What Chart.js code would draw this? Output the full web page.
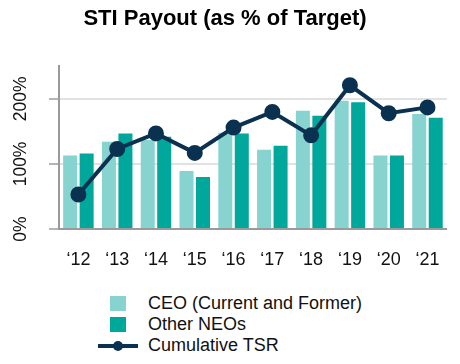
<!DOCTYPE html>
<html>
<head>
<meta charset="utf-8">
<script src="https://cdn.jsdelivr.net/npm/chart.js@4.4.0/dist/chart.umd.min.js"></script>
<style>
  body { margin: 0; background: #fff; font-family: "Liberation Sans", Arial, sans-serif; }
  #wrap { position: relative; width: 460px; height: 364px; }
  #chart { position: absolute; left: 0; top: 0; }
  #legend { position: absolute; left: 98px; top: 293px; font-size: 18px; color: #111; }
  .item { height: 21px; display: flex; align-items: center; }
  .sw { width: 40px; height: 21px; position: relative; margin-right: 10px; }
</style>
</head>
<body>
<div id="wrap">
  <canvas id="chart" width="460" height="280"></canvas>
  <div id="legend"></div>
</div>
<script>
// Data
const years = ['\u201812', '\u201813', '\u201814', '\u201815', '\u201816', '\u201817', '\u201818', '\u201819', '\u201820', '\u201821'];
const ceoPayout = [113, 134, 137, 89, 148, 122, 182, 197, 113, 177];
const neoPayout = [116, 147, 142, 80, 147, 128, 174, 195, 113, 171];
const cumulativeTsr = [53, 123, 147, 117, 156, 180, 144, 221, 178, 187];
const yTicks = [0, 100, 200];

const ceoColor = '#87d3cf';
const neoColor = '#00a79b';
const tsrColor = '#0b3151';

// Rotated y labels (drawn by hand)
const yLabelPlugin = {
    id: 'yLabels',
    afterDraw(chart) {
        const ctx = chart.ctx;
        const y = chart.scales.y;
        ctx.save();
        ctx.font = '17.5px "Liberation Sans", Arial, sans-serif';
        ctx.fillStyle = '#111';
        ctx.textAlign = 'center';
        ctx.textBaseline = 'middle';
        yTicks.forEach(function(v) {
            ctx.save();
            ctx.translate(21, y.getPixelForValue(v));
            ctx.rotate(-Math.PI / 2);
            ctx.fillText(v + '%', 0, 0);
            ctx.restore();
        });
        ctx.restore();
    }
};

const chart = new Chart(document.getElementById('chart'), {
    data: {
        labels: years,
        datasets: [
            {
                type: 'line',
                label: 'Cumulative TSR',
                data: cumulativeTsr,
                borderColor: tsrColor,
                backgroundColor: tsrColor,
                borderWidth: 4,
                pointRadius: 6,
                pointHoverRadius: 6,
                tension: 0,
                order: 0
            },
            {
                type: 'bar',
                label: 'CEO (Current and Former)',
                data: ceoPayout,
                backgroundColor: ceoColor,
                categoryPercentage: 0.85,
                barPercentage: 0.85,
                order: 1
            },
            {
                type: 'bar',
                label: 'Other NEOs',
                data: neoPayout,
                backgroundColor: neoColor,
                categoryPercentage: 0.85,
                barPercentage: 0.85,
                order: 1
            }
        ]
    },
    options: {
        responsive: false,
        animation: false,
        layout: { padding: { left: 0, right: 10, top: 0, bottom: 0 } },
        plugins: {
            legend: { display: false },
            tooltip: { enabled: false },
            title: {
                display: true,
                text: 'STI Payout (as % of Target)',
                color: '#000',
                font: { family: '"Liberation Sans", Arial, sans-serif', size: 22, weight: 'bold' },
                padding: { top: 6, bottom: 34 }
            }
        },
        scales: {
            x: {
                afterFit: function(s) { s.height = 51; },
                grid: { display: false, drawTicks: false },
                border: { color: '#9a9a9a', width: 2 },
                ticks: {
                    color: '#111',
                    padding: 20,
                    maxRotation: 0,
                    font: { family: '"Liberation Sans", Arial, sans-serif', size: 18 }
                }
            },
            y: {
                min: 0,
                max: 250,
                afterBuildTicks: function(s) {
                    s.ticks = yTicks.map(function(v) { return { value: v }; });
                },
                afterFit: function(s) { s.width = 59; },
                grid: { color: '#e2e2e2', lineWidth: 2, tickLength: 10, tickColor: '#b5b5b5' },
                border: { color: '#9a9a9a', width: 2 },
                ticks: { display: false }
            }
        }
    },
    plugins: [yLabelPlugin]
});

// HTML legend, stacked
const legendEl = document.getElementById('legend');
[chart.data.datasets[1], chart.data.datasets[2], chart.data.datasets[0]].forEach(function(ds) {
    const row = document.createElement('div');
    row.className = 'item';
    const sw = document.createElement('div');
    sw.className = 'sw';
    if (ds.type === 'bar') {
        sw.innerHTML = '<div style="position:absolute;left:12px;top:3px;width:16px;height:15px;background:' + ds.backgroundColor + '"></div>';
    } else {
        sw.innerHTML = '<div style="position:absolute;left:0;top:9px;width:40px;height:4px;background:' + ds.borderColor + '"></div>' +
            '<div style="position:absolute;left:15px;top:6px;width:10px;height:10px;border-radius:50%;background:' + ds.borderColor + '"></div>';
    }
    row.appendChild(sw);
    const txt = document.createElement('span');
    txt.textContent = ds.label;
    row.appendChild(txt);
    legendEl.appendChild(row);
});
</script>
</body>
</html>
